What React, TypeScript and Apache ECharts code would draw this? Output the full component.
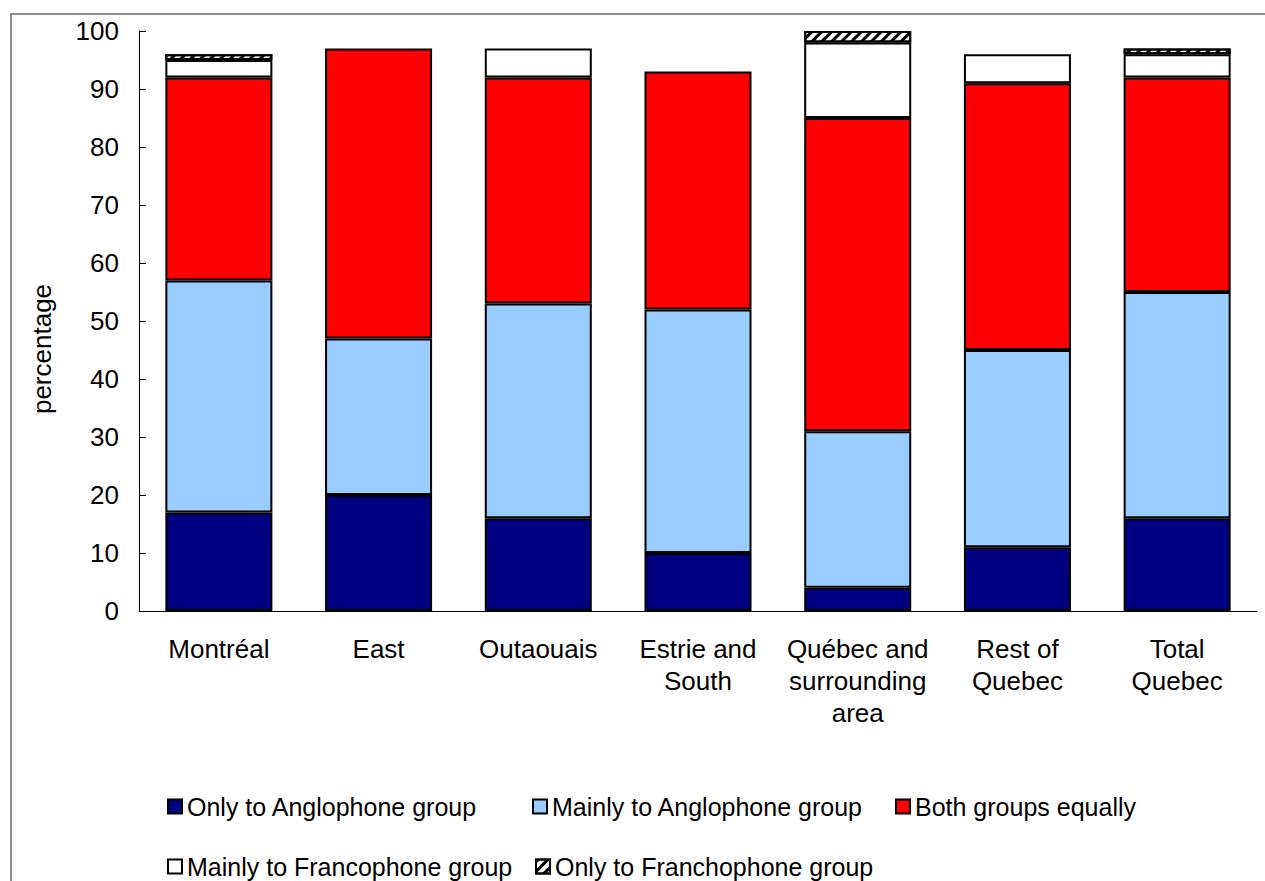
import React, { useEffect, useRef } from 'react';
import * as echarts from 'echarts';

const categories = [
  'Montréal',
  'East',
  'Outaouais',
  'Estrie and\nSouth',
  'Québec and\nsurrounding\narea',
  'Rest of\nQuebec',
  'Total\nQuebec',
];
const seriesNames = [
  'Only to Anglophone group',
  'Mainly to Anglophone group',
  'Both groups equally',
  'Mainly to Francophone group',
  'Only to Franchophone group',
];
const onlyAnglophone = [17, 20, 16, 10, 4, 11, 16];
const mainlyAnglophone = [40, 27, 37, 42, 27, 34, 39];
const bothEqually = [35, 50, 39, 41, 54, 46, 37];
const mainlyFrancophone = [3, 0, 5, 0, 13, 5, 4];
const onlyFrancophone = [1, 0, 0, 0, 2, 0, 1];
const yTicks = { min: 0, max: 100, interval: 10 };

const FONT = "'Liberation Sans', Arial, sans-serif";

export default function App() {
  const ref = useRef<HTMLDivElement>(null);
  useEffect(() => {
    if (!ref.current) return;
    const chart = echarts.init(ref.current, null, { renderer: 'svg' });
    const values = [onlyAnglophone, mainlyAnglophone, bothEqually, mainlyFrancophone, onlyFrancophone];
    const colors = ['#000080', '#99CCFF', '#FF0000', '#FFFFFF', '#FFFFFF'];
    const series = values.map((vals, i) => ({
      name: seriesNames[i],
      type: 'bar',
      stack: 'total',
      barCategoryGap: '33%',
      data: vals.map((v) => (v === 0 ? '-' : v)),
      itemStyle: {
        color: colors[i],
        borderColor: '#000',
        borderWidth: 2,
        decal:
          i === 4
            ? {
                symbol: 'rect',
                symbolSize: 1,
                dashArrayX: [1, 0],
                dashArrayY: [3, 4],
                rotation: -Math.PI / 4,
                color: '#000',
                backgroundColor: '#fff',
              }
            : undefined,
      },
    }));
    const legendPos = [
      { left: 162, top: 789 },
      { left: 527, top: 789 },
      { left: 890, top: 789 },
      { left: 162, top: 849 },
      { left: 530, top: 849 },
    ];
    chart.setOption({
      animation: false,
      backgroundColor: '#fff',
      textStyle: { fontFamily: FONT },
      grid: { left: 139, right: 8, top: 31, bottom: 270, containLabel: false },
      xAxis: {
        type: 'category',
        data: categories,
        axisLine: { show: true, lineStyle: { color: '#000', width: 1 } },
        axisTick: { show: false },
        axisLabel: { color: '#000', fontSize: 26, fontFamily: FONT, margin: 22, lineHeight: 32, interval: 0 },
      },
      yAxis: {
        type: 'value',
        min: yTicks.min,
        max: yTicks.max,
        interval: yTicks.interval,
        name: 'percentage',
        nameLocation: 'middle',
        nameGap: 84,
        nameRotate: 90,
        nameTextStyle: { color: '#000', fontSize: 26, fontFamily: FONT, padding: [0, 56, 0, 0] },
        axisLine: { show: true, lineStyle: { color: '#000', width: 1 } },
        axisTick: { show: true, inside: true, length: 7, lineStyle: { color: '#000' } },
        axisLabel: { color: '#000', fontSize: 26, fontFamily: FONT, margin: 20 },
        splitLine: { show: false },
      },
      legend: seriesNames.map((n, i) => ({
        data: [n],
        left: legendPos[i].left,
        top: legendPos[i].top,
        itemWidth: 14,
        itemHeight: 14,
        itemGap: 5,
        icon: 'rect',
        textStyle: { color: '#000', fontSize: 25, fontFamily: FONT },
        selectedMode: false,
      })),
      graphic: [
        {
          type: 'rect',
          shape: { x: 11, y: 14, width: 1400, height: 1000 },
          style: { fill: 'none', stroke: '#8c8c8c', lineWidth: 2 },
          silent: true,
          z: -1,
        },
      ],
      series,
    });
    return () => chart.dispose();
  }, []);
  return <div ref={ref} style={{ position: 'fixed', left: 0, top: 0, width: 1265, height: 881 }} />;
}
